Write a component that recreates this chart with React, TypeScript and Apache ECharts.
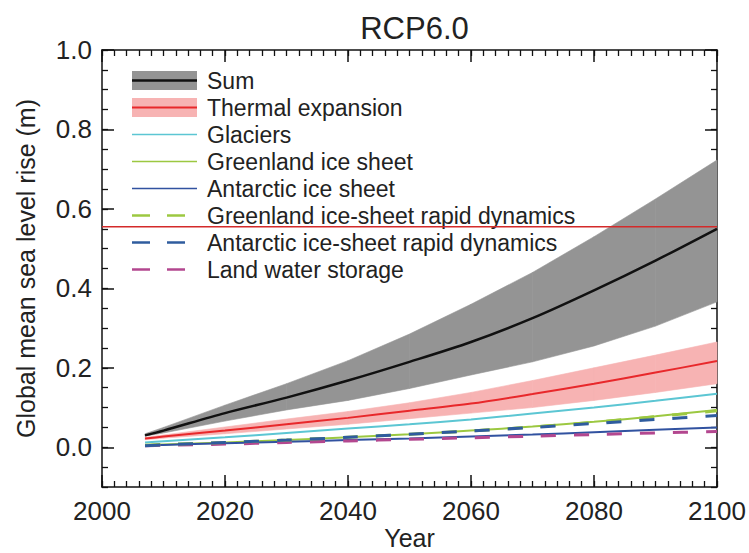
import React, { useEffect, useRef } from "react";
import * as echarts from "echarts";

// ---- data ----
const years = [2007, 2010, 2020, 2030, 2040, 2050, 2060, 2070, 2080, 2090, 2100];

const sumMid = [0.03, 0.042, 0.086, 0.125, 0.168, 0.215, 0.265, 0.325, 0.395, 0.47, 0.55];
const sumLow = [0.028, 0.036, 0.066, 0.094, 0.118, 0.148, 0.182, 0.215, 0.255, 0.305, 0.366];
const sumHigh = [0.034, 0.05, 0.106, 0.16, 0.218, 0.285, 0.36, 0.44, 0.53, 0.625, 0.723];

const thermalMid = [0.022, 0.027, 0.042, 0.058, 0.074, 0.092, 0.11, 0.134, 0.16, 0.188, 0.217];
const thermalLow = [0.019, 0.023, 0.034, 0.046, 0.058, 0.072, 0.086, 0.1, 0.118, 0.138, 0.16];
const thermalHigh = [0.025, 0.031, 0.051, 0.071, 0.09, 0.112, 0.138, 0.168, 0.2, 0.232, 0.265];

const glaciers = [0.012, 0.015, 0.025, 0.036, 0.047, 0.058, 0.07, 0.085, 0.1, 0.117, 0.135];
const greenlandSheet = [0.005, 0.007, 0.012, 0.018, 0.025, 0.033, 0.042, 0.052, 0.064, 0.078, 0.094];
const antarcticSheet = [0.005, 0.006, 0.01, 0.014, 0.018, 0.022, 0.027, 0.032, 0.038, 0.044, 0.05];
const greenlandDynamics = [0.005, 0.007, 0.012, 0.018, 0.025, 0.033, 0.041, 0.051, 0.063, 0.077, 0.092];
const antarcticDynamics = [0.004, 0.006, 0.012, 0.018, 0.025, 0.033, 0.041, 0.05, 0.06, 0.07, 0.08];
const landWater = [0.004, 0.005, 0.008, 0.012, 0.016, 0.02, 0.024, 0.028, 0.032, 0.036, 0.04];

const thresholdValue = 0.555;

const xTickLabels = [2000, 2020, 2040, 2060, 2080, 2100];
const yTickLabels = [0, 0.2, 0.4, 0.6, 0.8, 1.0];

const legendNames = [
  "Sum",
  "Thermal expansion",
  "Glaciers",
  "Greenland ice sheet",
  "Antarctic ice sheet",
  "Greenland ice-sheet rapid dynamics",
  "Antarctic ice-sheet rapid dynamics",
  "Land water storage",
];

// ---- styles ----
const FONT = "Liberation Sans, Arial, Helvetica, sans-serif";
const TEXT = "#222";
const C = {
  sum: "#111111",
  sumBand: "#949494",
  thermal: "#e8282b",
  thermalBand: "#f7b3b3",
  glaciers: "#5cc6d3",
  greenland: "#9cc841",
  antarctic: "#3152a0",
  greenlandDyn: "#9cc841",
  antarcticDyn: "#2f5c9e",
  land: "#b3478f",
  threshold: "#d42a2a",
};
const legendColors = [C.sum, C.thermal, C.glaciers, C.greenland, C.antarctic, C.greenlandDyn, C.antarcticDyn, C.land];
const legendDashed = [false, false, false, false, false, true, true, true];
const legendBand = [C.sumBand, C.thermalBand, null, null, null, null, null, null];

const zip = (ys: number[]) => years.map((y, i) => [y, ys[i]]);

function lineSeries(name: string, vals: number[], color: string, width: number, dashed = false, z = 3) {
  return {
    name,
    type: "line",
    data: zip(vals),
    smooth: 0.3,
    symbol: "none",
    silent: true,
    z,
    lineStyle: { color, width, type: dashed ? [15, 18] : "solid", cap: "butt" },
  };
}

// Band between lo and hi, drawn segment by segment through the axes' scales.
function bandSeries(name: string, lo: number[], hi: number[], color: string) {
  return {
    name,
    type: "custom",
    silent: true,
    z: 1,
    data: years.map((y, i) => [y, lo[i], hi[i]]),
    encode: { x: 0, y: [1, 2] },
    renderItem: (params: any, api: any) => {
      const i = params.dataIndex;
      if (i >= years.length - 1) return null;
      const y0 = years[i];
      const y1 = years[i + 1];
      const pts = [
        api.coord([y0, hi[i]]),
        api.coord([y1, hi[i + 1]]),
        api.coord([y1, lo[i + 1]]),
        api.coord([y0, lo[i]]),
      ];
      return {
        type: "polygon",
        shape: { points: pts },
        style: { fill: color, stroke: color, lineWidth: 0.6 },
      };
    },
  };
}

function buildLegend() {
  const els: any[] = [];
  const x0 = 132;
  const x1 = 197;
  const top = 80.5;
  const step = 27;
  legendNames.forEach((name, i) => {
    const y = top + step * i;
    const band = legendBand[i];
    if (band) {
      els.push({ type: "rect", shape: { x: x0, y: y - 9.5, width: x1 - x0, height: 19 }, style: { fill: band }, silent: true });
    }
    if (legendDashed[i]) {
      els.push({ type: "line", shape: { x1: x0, y1: y, x2: x0 + 18, y2: y }, style: { stroke: legendColors[i], lineWidth: 2.5 }, silent: true });
      els.push({ type: "line", shape: { x1: x0 + 35, y1: y, x2: x0 + 53, y2: y }, style: { stroke: legendColors[i], lineWidth: 2.5 }, silent: true });
    } else {
      els.push({
        type: "line",
        shape: { x1: x0, y1: y, x2: x1, y2: y },
        style: { stroke: legendColors[i], lineWidth: i === 0 ? 2.5 : i === 1 ? 2 : 1.5 },
        silent: true,
      });
    }
    els.push({
      type: "text",
      x: 207,
      y,
      style: { text: name, fill: TEXT, font: `23px ${FONT}`, verticalAlign: "middle" },
      silent: true,
    });
  });
  return els;
}

const minorTick = () => ({ show: true, inside: true, length: 6, lineStyle: { color: "#111", width: 1.3 } });
const majorTick = (custom?: number[]) => ({
  show: true,
  inside: true,
  length: 12,
  ...(custom ? { customValues: custom } : {}),
  lineStyle: { color: "#111", width: 1.5 },
});
const frameLine = () => ({ show: true, onZero: false, lineStyle: { color: "#111", width: 1.5 } });
const noLine = () => ({ show: false, onZero: false });

export default function App() {
  const ref = useRef<HTMLDivElement>(null);
  useEffect(() => {
    if (!ref.current) return;
    const chart = echarts.init(ref.current, null, { renderer: "svg" });
    const xBase = { type: "value", min: 2000, max: 2100, splitLine: { show: false } };
    const yBase = { type: "value", min: -0.1, max: 1.0, splitLine: { show: false } };
    const option: any = {
      animation: false,
      backgroundColor: "#ffffff",
      textStyle: { fontFamily: FONT },
      title: {
        text: "RCP6.0",
        left: 409.5,
        top: 8,
        textAlign: "center",
        textStyle: { fontFamily: FONT, fontSize: 31, fontWeight: "normal", color: TEXT },
      },
      grid: { left: 102, right: 32, top: 50, bottom: 66, outerBoundsMode: "none" },
      xAxis: [
        {
          ...xBase,
          position: "bottom",
          interval: 2,
          axisLine: frameLine(),
          axisTick: minorTick(),
          axisLabel: {
            show: true,
            customValues: xTickLabels,
            formatter: (v: number) => String(v),
            fontSize: 26,
            color: TEXT,
            fontFamily: FONT,
            margin: 11,
          },
          name: "Year",
          nameLocation: "middle",
          nameGap: 38,
          nameMoveOverlap: false,
          nameTextStyle: { fontSize: 25, color: TEXT, fontFamily: FONT },
        },
        { ...xBase, position: "bottom", interval: 20, axisLine: noLine(), axisTick: majorTick(), axisLabel: { show: false } },
        { ...xBase, position: "top", interval: 2, axisLine: frameLine(), axisTick: minorTick(), axisLabel: { show: false } },
        { ...xBase, position: "top", interval: 20, axisLine: noLine(), axisTick: majorTick(), axisLabel: { show: false } },
      ],
      yAxis: [
        {
          ...yBase,
          position: "left",
          interval: 0.05,
          axisLine: frameLine(),
          axisTick: minorTick(),
          axisLabel: {
            show: true,
            customValues: yTickLabels,
            formatter: (v: number) => v.toFixed(1),
            fontSize: 26,
            color: TEXT,
            fontFamily: FONT,
            margin: 10,
          },
          name: "Global mean sea level rise (m)",
          nameLocation: "middle",
          nameGap: 64,
          nameMoveOverlap: false,
          nameTextStyle: { fontSize: 25, color: TEXT, fontFamily: FONT },
        },
        { ...yBase, position: "left", axisLine: noLine(), axisTick: majorTick(yTickLabels), axisLabel: { show: false } },
        { ...yBase, position: "right", interval: 0.05, axisLine: frameLine(), axisTick: minorTick(), axisLabel: { show: false } },
        { ...yBase, position: "right", axisLine: noLine(), axisTick: majorTick(yTickLabels), axisLabel: { show: false } },
      ],
      series: [
        bandSeries("Sum range", sumLow, sumHigh, C.sumBand),
        bandSeries("Thermal expansion range", thermalLow, thermalHigh, C.thermalBand),
        lineSeries("Sum", sumMid, C.sum, 2.5),
        lineSeries("Thermal expansion", thermalMid, C.thermal, 2),
        lineSeries("Glaciers", glaciers, C.glaciers, 2),
        lineSeries("Greenland ice sheet", greenlandSheet, C.greenland, 2),
        lineSeries("Antarctic ice sheet", antarcticSheet, C.antarctic, 2),
        lineSeries("Land water storage", landWater, C.land, 3, true),
        lineSeries("Greenland ice-sheet rapid dynamics", greenlandDynamics, C.greenlandDyn, 3, true),
        lineSeries("Antarctic ice-sheet rapid dynamics", antarcticDynamics, C.antarcticDyn, 3, true),
        {
          name: "threshold",
          type: "line",
          data: [
            [2000, thresholdValue],
            [2100, thresholdValue],
          ],
          symbol: "none",
          silent: true,
          z: 4,
          lineStyle: { color: C.threshold, width: 1.5 },
        },
      ],
      graphic: buildLegend(),
    };
    chart.setOption(option);
    return () => chart.dispose();
  }, []);
  return (
    <div
      ref={ref}
      style={{ position: "fixed", left: 0, top: 0, width: 749, height: 553, background: "#fff" }}
    />
  );
}
